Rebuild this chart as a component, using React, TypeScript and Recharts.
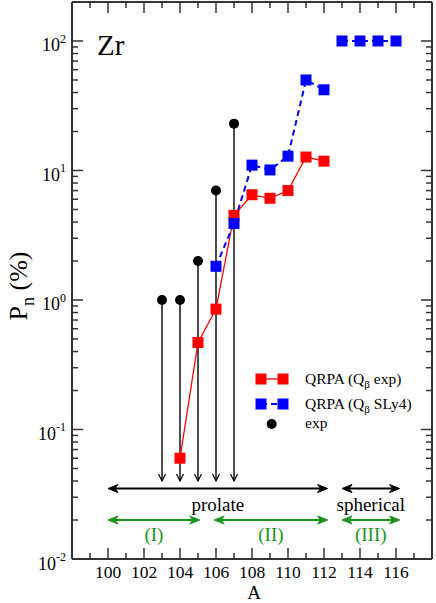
import React from 'react';
import { ComposedChart, Line, Scatter, XAxis, YAxis, ReferenceLine } from 'recharts';

// ---- data ----
const qrpaExpA = [104, 105, 106, 107, 108, 109, 110, 111, 112];
const qrpaExpPn = [0.06, 0.47, 0.85, 4.5, 6.5, 6.1, 7.0, 12.7, 11.8];

const sly4DeformedA = [106, 107, 108, 109, 110, 111, 112];
const sly4DeformedPn = [1.82, 3.9, 11.0, 10.1, 12.9, 50, 42];

const sly4SphericalA = [113, 114, 115, 116];
const sly4SphericalPn = [100, 100, 100, 100];

const expA = [103, 104, 105, 106, 107];
const expPn = [1, 1, 2, 7, 23];
const expArrowTip = 0.04;

const xTicks = [99, 100, 101, 102, 103, 104, 105, 106, 107, 108, 109, 110, 111, 112, 113, 114, 115, 116, 117];
const xLabelTicks = [100, 102, 104, 106, 108, 110, 112, 114, 116];
const yDecades = [0.01, 0.1, 1, 10, 100];
const yMinorFactors = [2, 3, 4, 5, 6, 7, 8, 9];

// region annotations: [from A, to A, label]
const shapeLevel = 0.035;
const regionLevel = 0.02;
const shapeBands: [number, number, string][] = [
  [100, 112.2, 'prolate'],
  [113, 116.2, 'spherical'],
];
const regionBands: [number, number, string][] = [
  [100, 105.1, '(I)'],
  [105.9, 112.2, '(II)'],
  [113, 116.2, '(III)'],
];

const qrpaExpData = qrpaExpA.map((a, i) => ({ a, pn: qrpaExpPn[i] }));
const sly4DeformedData = sly4DeformedA.map((a, i) => ({ a, pn: sly4DeformedPn[i] }));
const sly4SphericalData = sly4SphericalA.map((a, i) => ({ a, pn: sly4SphericalPn[i] }));
const expData = expA.map((a, i) => ({ a, pn: expPn[i] }));

const yTicks: number[] = [];
yDecades.forEach((d) => {
  yTicks.push(d);
  yMinorFactors.forEach((f) => yTicks.push(+(d * f).toPrecision(6)));
});

const FONT = "'Liberation Serif', 'DejaVu Serif', serif";
const TXT = { fontFamily: FONT };
const AXIS = '#333';
const RED = '#ff0000';
const BLUE = '#0000ff';
const GREEN = '#1c941c';

const isDecade = (v: number) => Math.abs(Math.log10(v) - Math.round(Math.log10(v))) < 1e-6;

const LeftTick = (props: any) => {
  const { x, y, payload } = props;
  const v = payload.value;
  const major = isDecade(v);
  const e = Math.round(Math.log10(v));
  return (
    <g>
      <line x1={x} y1={y} x2={x + (major ? 11 : 6)} y2={y} stroke={AXIS} strokeWidth={1.5} />
      {major && (
        <text x={x - 6} y={y + 10.5} textAnchor="end" style={TXT} fontSize={18} fill="#000">
          10<tspan dy={-8.5} fontSize={12}>{e}</tspan>
        </text>
      )}
    </g>
  );
};

const RightTick = (props: any) => {
  const { x, y, payload } = props;
  const major = isDecade(payload.value);
  return <line x1={x} y1={y} x2={x - (major ? 11 : 6)} y2={y} stroke={AXIS} strokeWidth={1.5} />;
};

const BottomTick = (props: any) => {
  const { x, y, payload } = props;
  const v = payload.value;
  const major = xLabelTicks.includes(v);
  return (
    <g>
      <line x1={x} y1={y} x2={x} y2={y - (major ? 11 : 6)} stroke={AXIS} strokeWidth={1.5} />
      {major && (
        <text x={x} y={y + 18.5} textAnchor="middle" style={TXT} fontSize={17.5} fill="#000">
          {v}
        </text>
      )}
    </g>
  );
};

const TopTick = (props: any) => {
  const { x, y, payload } = props;
  const major = xLabelTicks.includes(payload.value);
  return <line x1={x} y1={y} x2={x} y2={y + (major ? 11 : 6)} stroke={AXIS} strokeWidth={1.5} />;
};

const Square = (color: string) => (props: any) => {
  const { cx, cy } = props;
  if (cx == null || cy == null) return <g />;
  return <rect x={cx - 5.5} y={cy - 5.5} width={11} height={11} fill={color} stroke="none" />;
};

const Dot = (props: any) => {
  const { cx, cy } = props;
  return <circle cx={cx} cy={cy} r={5} fill="#000" />;
};

const DropArrow = (props: any) => {
  const { x1, y1, x2, y2 } = props;
  return (
    <g>
      <line x1={x1} y1={y1} x2={x2} y2={y2} stroke="#000" strokeWidth={1.4} />
      <path d={`M${x2 - 3.5},${y2 - 7} L${x2},${y2} L${x2 + 3.5},${y2 - 7}`} fill="none" stroke="#000" strokeWidth={1.2} />
    </g>
  );
};

const DoubleArrow = (color: string, label: string, dyLabel: number) => (props: any) => {
  const { x1, y1, x2 } = props;
  const y = y1;
  const l = Math.min(x1, x2);
  const r = Math.max(x1, x2);
  return (
    <g>
      <line x1={l + 3} y1={y} x2={r - 3} y2={y} stroke={color} strokeWidth={2} />
      <path d={`M${l},${y} L${l + 10},${y - 4} L${l + 7},${y} L${l + 10},${y + 4} Z`} fill={color} stroke={color} strokeWidth={1} />
      <path d={`M${r},${y} L${r - 10},${y - 4} L${r - 7},${y} L${r - 10},${y + 4} Z`} fill={color} stroke={color} strokeWidth={1} />
      <text x={(l + r) / 2} y={y + dyLabel} textAnchor="middle" style={TXT} fontSize={19} fill={color}>
        {label}
      </text>
    </g>
  );
};

export default function App() {
  return (
    <div style={{ position: 'absolute', left: 0, top: 0, width: 436, height: 603, background: '#fff', fontFamily: FONT }}>
      <ComposedChart
        width={436}
        height={603}
        margin={{ top: 0, right: 0, bottom: 0, left: 0 }}
        style={{ position: 'absolute', left: 0, top: 0, fontFamily: FONT }}
      >
        <XAxis
          xAxisId={0}
          dataKey="a"
          type="number"
          domain={[98, 118]}
          ticks={xTicks}
          interval={0}
          allowDataOverflow
          height={44}
          tickSize={0}
          tickMargin={0}
          tickLine={false}
          axisLine={{ stroke: AXIS, strokeWidth: 2 }}
          tick={BottomTick}
        />
        <XAxis
          xAxisId="top"
          orientation="top"
          dataKey="a"
          type="number"
          domain={[98, 118]}
          ticks={xTicks}
          interval={0}
          allowDataOverflow
          height={2}
          tickSize={0}
          tickMargin={0}
          tickLine={false}
          axisLine={{ stroke: AXIS, strokeWidth: 2 }}
          tick={TopTick}
        />
        <YAxis
          yAxisId={0}
          dataKey="pn"
          type="number"
          scale="log"
          domain={[0.01, 200]}
          ticks={yTicks}
          interval={0}
          allowDataOverflow
          width={72}
          tickSize={0}
          tickMargin={0}
          tickLine={false}
          axisLine={{ stroke: AXIS, strokeWidth: 2 }}
          tick={LeftTick}
        />
        <YAxis
          yAxisId="right"
          orientation="right"
          dataKey="pn"
          type="number"
          scale="log"
          domain={[0.01, 200]}
          ticks={yTicks}
          interval={0}
          allowDataOverflow
          width={4}
          tickSize={0}
          tickMargin={0}
          tickLine={false}
          axisLine={{ stroke: AXIS, strokeWidth: 2 }}
          tick={RightTick}
        />

        {expData.map((d) => (
          <ReferenceLine
            key={`drop-${d.a}`}
            segment={[{ x: d.a, y: d.pn }, { x: d.a, y: expArrowTip }]}
            shape={DropArrow}
            ifOverflow="visible"
          />
        ))}
        {shapeBands.map(([from, to, label]) => (
          <ReferenceLine
            key={`shape-${label}`}
            segment={[{ x: from, y: shapeLevel }, { x: to, y: shapeLevel }]}
            shape={DoubleArrow('#000', label, 22.5)}
            ifOverflow="visible"
          />
        ))}
        {regionBands.map(([from, to, label]) => (
          <ReferenceLine
            key={`region-${label}`}
            segment={[{ x: from, y: regionLevel }, { x: to, y: regionLevel }]}
            shape={DoubleArrow(GREEN, label, 20.5)}
            ifOverflow="visible"
          />
        ))}

        <Line
          data={qrpaExpData}
          dataKey="pn"
          stroke={RED}
          strokeWidth={1.3}
          dot={Square(RED)}
          activeDot={false}
          isAnimationActive={false}
        />
        <Line
          data={sly4DeformedData}
          dataKey="pn"
          stroke={BLUE}
          strokeWidth={2}
          strokeDasharray="6 4"
          dot={Square(BLUE)}
          activeDot={false}
          isAnimationActive={false}
        />
        <Line
          data={sly4SphericalData}
          dataKey="pn"
          stroke={BLUE}
          strokeWidth={2}
          strokeDasharray="6 4"
          dot={Square(BLUE)}
          activeDot={false}
          isAnimationActive={false}
        />
        <Scatter data={expData} dataKey="pn" shape={Dot} isAnimationActive={false} />
      </ComposedChart>

      <svg
        width={436}
        height={603}
        style={{ position: 'absolute', left: 0, top: 0, pointerEvents: 'none', fontFamily: FONT }}
      >
        <text x={97} y={55} style={TXT} fontSize={29} fill="#000">Zr</text>
        <text
          x={27}
          y={286}
          transform="rotate(-90 27 286)"
          textAnchor="middle"
          style={TXT}
          fontSize={26}
          fill="#000"
        >
          P<tspan dy={7} fontSize={18}>n</tspan><tspan dy={-7} fontSize={26}> (%)</tspan>
        </text>
        <text x={254} y={598.5} textAnchor="middle" style={TXT} fontSize={19} fill="#000">A</text>

        {/* legend */}
        <line x1={261} y1={379} x2={283} y2={379} stroke={RED} strokeWidth={1.3} />
        <rect x={255.5} y={373.5} width={11} height={11} fill={RED} />
        <rect x={277.5} y={373.5} width={11} height={11} fill={RED} />
        <text x={305} y={383.5} style={TXT} fontSize={15.5} fill="#000">
          QRPA (Q<tspan dy={4} fontSize={11}>β</tspan><tspan dy={-4}> exp)</tspan>
        </text>

        <line x1={261} y1={404} x2={283} y2={404} stroke={BLUE} strokeWidth={2} strokeDasharray="6 4" />
        <rect x={255.5} y={398.5} width={11} height={11} fill={BLUE} />
        <rect x={277.5} y={398.5} width={11} height={11} fill={BLUE} />
        <text x={305} y={408.5} style={TXT} fontSize={15.5} fill="#000">
          QRPA (Q<tspan dy={4} fontSize={11}>β</tspan><tspan dy={-4}> SLy4)</tspan>
        </text>

        <circle cx={271.7} cy={424} r={5} fill="#000" />
        <text x={305} y={428} style={TXT} fontSize={15.5} fill="#000">exp</text>
      </svg>
    </div>
  );
}
